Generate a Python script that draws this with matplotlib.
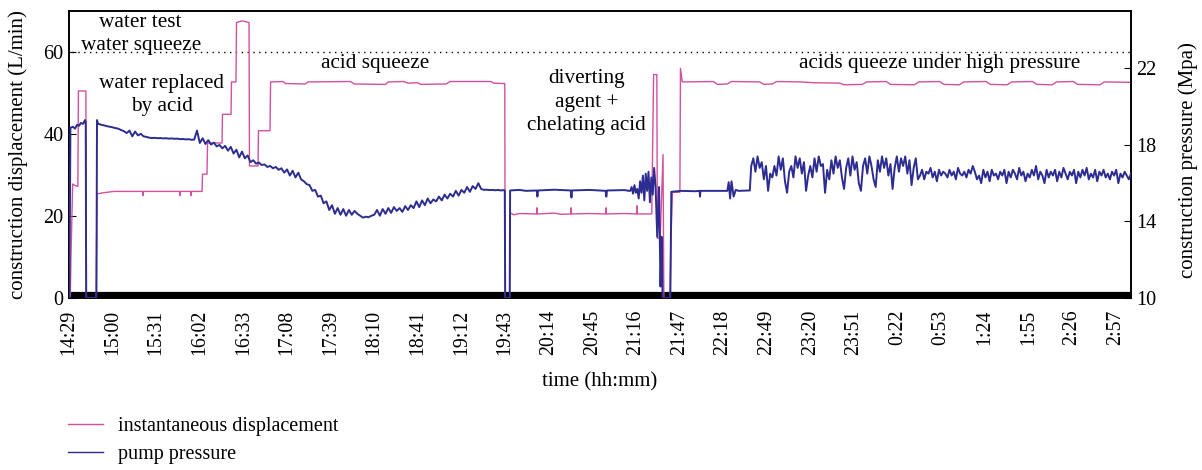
import numpy as np
import matplotlib
matplotlib.use("Agg")
import matplotlib.pyplot as plt
from matplotlib.lines import Line2D

plt.rcParams['font.family'] = ['Liberation Serif', 'DejaVu Serif']

# ---------------- data ----------------
tick_labels = ["14:29", "15:00", "15:31", "16:02", "16:33", "17:08", "17:39", "18:10",
               "18:41", "19:12", "19:43", "20:14", "20:45", "21:16", "21:47", "22:18",
               "22:49", "23:20", "23:51", "0:22", "0:53", "1:24", "1:55", "2:26", "2:57"]
tick_step_min = 31

# instantaneous displacement (L/min): time in minutes since 14:29, value
disp_t = [0.0, 0.9, 1.4, 2.6, 4.0, 6.3, 6.7, 12.0, 12.4, 19.3, 19.9, 25, 32, 52.3, 52.6, 52.9,
          78.6, 78.9, 79.2, 86.4, 86.7, 87.0, 94.6, 94.9, 98.1, 98.5, 108.8, 109.1, 115.2, 115.5,
          118.7, 119.1, 123, 128.0, 128.3, 134.4, 134.7, 142.9, 143.3, 152, 154, 168, 170, 200,
          203, 225, 227, 238, 241, 248, 250, 268, 271, 300, 302, 309.8, 310.1, 313.3, 313.8, 316,
          320, 332.4, 332.7, 333.0, 345, 350, 356.6, 356.9, 357.2, 370, 381.5, 381.8, 382.1, 395,
          403.5, 403.8, 404.1, 414.3, 415.6, 417.9, 418.3, 420.3, 422.3, 422.9, 427.3, 427.8,
          429.0, 434.3, 434.7, 436.0, 458, 461, 468, 471, 491, 494, 500, 503, 520, 530, 548, 551,
          564, 567, 581, 584, 601, 604, 619, 622, 633, 636, 652, 655, 667, 670, 685, 688, 699,
          702, 714, 717, 733, 736, 755]
disp_v = [0, 0, 10, 27.8, 27.5, 27.2, 50.5, 50.5, 0, 0, 25.4, 25.7, 26.0, 26.0, 25.0, 26.0,
          26.0, 25.0, 26.0, 26.0, 25.0, 26.0, 26.0, 30.2, 30.2, 37.8, 37.8, 44.8, 44.8, 52.7,
          52.7, 67.2, 67.6, 67.2, 32.2, 32.2, 40.8, 40.8, 52.7, 52.8, 52.3, 52.2, 52.7, 52.8,
          52.2, 52.1, 52.7, 52.8, 52.4, 52.5, 52.1, 52.2, 52.8, 52.8, 52.4, 52.3, 0, 0, 20.8, 20.3,
          20.6, 20.5, 22.0, 20.5, 20.7, 20.4, 20.5, 22.0, 20.5, 20.6, 20.5, 22.0, 20.5, 20.6,
          20.5, 22.5, 20.5, 20.5, 54.5, 54.5, 14.6, 14.6, 35.0, 0, 0, 12.5,
          25.8, 25.8, 56.0, 52.7, 52.8, 52.1, 52.2, 52.8, 52.7, 52.1, 52.2, 52.8, 52.7, 52.5, 52.4, 52.0,
          52.1, 52.7, 52.8, 52.1, 52.0, 52.7, 52.8, 52.1, 52.0, 52.7, 52.8, 52.1, 52.0, 52.7, 52.8, 52.1, 52.0,
          52.7, 52.8, 52.1, 52.0, 52.7, 52.6]

# pump pressure (MPa), start-up segment
pres_a_t = [0.3, 1.0, 2.8, 4.3, 5.7, 7.1, 8.5, 10.0, 11.4, 11.9, 12.2, 19.5, 19.9, 20.6]
pres_a_v = [10.0, 18.9, 18.95, 18.85, 19.05, 19.0, 19.15, 19.1, 19.3, 19.2, 10.0, 10.0, 19.3, 19.1]

# pump pressure, sampled every 2 min from minute 21
pres_b_start, pres_b_step = 21, 2
pres_b_v = [19.10, 19.05, 19.02, 18.98, 18.95, 18.92, 18.88, 18.85, 18.78, 18.72, 18.62, 18.75,
            18.45, 18.70, 18.50, 18.58, 18.45, 18.42, 18.38, 18.36, 18.37, 18.35, 18.36, 18.34,
            18.35, 18.33, 18.34, 18.32, 18.33, 18.30, 18.31, 18.29, 18.30, 18.27, 18.28, 18.75,
            18.10, 18.35, 18.05, 18.25, 18.02, 18.12, 17.92, 18.00, 17.82, 17.95, 17.70, 17.90,
            17.55, 17.75, 17.35, 17.65, 17.30, 17.45, 17.10, 17.20, 17.02, 17.08, 16.95, 16.98,
            16.85, 16.90, 16.78, 16.85, 16.70, 16.78, 16.55, 16.72, 16.40, 16.65, 16.30, 16.55,
            16.20, 16.10, 15.95, 15.90, 15.60, 15.65, 15.30, 15.35, 14.95, 15.05, 14.60, 14.85,
            14.40, 14.70, 14.35, 14.65, 14.30, 14.60, 14.35, 14.55, 14.40, 14.30, 14.20, 14.25,
            14.22, 14.30, 14.35, 14.60, 14.30, 14.65, 14.40, 14.70, 14.45, 14.75, 14.55, 14.70,
            14.50, 14.80, 14.60, 14.85, 14.70, 15.05, 14.75, 15.10, 14.85, 15.20, 14.95, 15.15,
            15.05, 15.30, 15.10, 15.40, 15.20, 15.45, 15.30, 15.60, 15.35, 15.65, 15.50, 15.80,
            15.55, 15.85, 15.70, 16.00, 15.70, 15.65, 15.66, 15.64, 15.65, 15.63, 15.65, 15.62,
            15.64]

# pump pressure, stop and acid/diverting stage
pres_c_t = [309.8, 310.1, 313.3, 313.6, 320, 325, 332.5, 333.0, 333.5, 345, 356.8, 357.2, 357.6,
            370, 381.5, 382.0, 382.5, 395, 398]
pres_c_v = [15.62, 10.0, 10.0, 15.62, 15.65, 15.60, 15.62, 15.30, 15.62, 15.66, 15.62, 15.25,
            15.62, 15.65, 15.60, 15.30, 15.62, 15.64, 15.60]

pres_d_start, pres_d_step = 399, 1
pres_d_v = [15.6, 15.8, 15.45, 15.9, 15.5, 15.7, 15.2, 16.1, 15.5, 16.4, 15.1, 16.5, 15.6, 16.6,
            15.0, 16.3, 15.4, 16.8, 15.8]

pres_e_t = [418.2, 419.5, 420.5, 421.3, 422.0, 427.5, 428.2, 435, 445, 448.3, 448.6, 448.9,
            468.0, 469.0, 470.0, 471.0, 472.5, 474.0, 476, 484]
pres_e_v = [13.2, 15.8, 10.6, 13.2, 10.0, 10.0, 15.55, 15.60, 15.58, 15.60, 15.30, 15.60,
            15.60, 16.05, 15.20, 16.10, 15.30, 15.65, 15.60, 15.62]

# high-pressure stage, sampled every 1.5 min
pres_f_start, pres_f_step = 485, 1.5
pres_f_v = [16.9, 17.3, 16.6, 17.4, 16.8, 17.1, 16.2, 16.9, 15.6, 16.5, 16.3, 16.9, 16.4, 17.4,
            16.7, 17.3, 16.1, 15.5, 16.6, 16.9, 16.3, 17.4, 16.8, 17.3, 16.5, 17.1, 15.6, 16.4,
            16.9, 16.3, 17.3, 16.6, 17.4, 16.9, 17.0, 15.5, 16.7, 16.2, 17.2, 16.5, 17.4, 16.8,
            17.2, 16.3, 15.7, 16.8, 17.3, 16.4, 17.4, 16.7, 17.1, 16.0, 15.6, 16.9, 17.3, 16.5,
            17.4, 16.9, 16.2, 15.8, 17.2, 16.6, 17.4, 16.8, 17.3, 16.4, 17.0, 15.7, 16.8, 17.4,
            16.6, 17.3, 16.9, 17.4, 16.5, 17.2, 15.9, 16.8, 17.3, 16.2,
            16.4, 16.7, 16.2, 16.6, 16.5, 16.8, 16.3, 16.6, 16.1, 16.7, 16.4, 16.6, 16.5, 16.3,
            16.7, 16.4, 16.6, 16.2, 16.8, 16.5, 16.4, 16.6, 16.3, 16.7, 16.5, 16.9, 16.6, 16.2,
            16.4, 16.0, 16.7, 16.3, 16.6, 16.1, 16.7, 16.4, 16.5, 16.2, 16.6, 16.4, 16.7, 16.0,
            16.6, 16.3, 16.7, 16.5, 16.2, 16.8, 16.4, 16.6, 16.1, 16.5, 16.3, 16.7, 16.4, 16.9,
            16.2, 16.6, 16.4, 16.0, 16.7, 16.3, 16.6, 16.4, 16.7, 16.1, 16.6, 16.3, 16.8, 16.5,
            16.2, 16.6, 16.4, 16.7, 16.0, 16.6, 16.3, 16.7, 16.4, 16.8, 16.2, 16.5, 16.3, 16.7,
            16.1, 16.6, 16.4, 16.7, 16.3, 16.5, 16.2, 16.6, 16.4, 16.7, 16.0, 16.5, 16.3, 16.6,
            16.4, 16.2, 16.5]

stage_labels = ["water test", "water squeeze", "water replaced\nby acid", "acid squeeze",
                "diverting\nagent +\nchelating acid", "acids queeze under high pressure"]
stage_t = [50.5, 51.0, 66.0, 217.5, 368.0, 619.0]
stage_y = [69.6, 63.9, 54.6, 59.4, 55.8, 59.4]
stage_spacing = [1.25, 1.25, 1.25, 1.25, 1.32, 1.25]

# ---------------- build pressure series ----------------
pres_b_t = pres_b_start + pres_b_step * np.arange(len(pres_b_v))
pres_d_t = pres_d_start + pres_d_step * np.arange(len(pres_d_v))
pres_f_t = pres_f_start + pres_f_step * np.arange(len(pres_f_v))
pres_t = np.concatenate([pres_a_t, pres_b_t, pres_c_t, pres_d_t, pres_e_t, pres_f_t])
pres_v = np.concatenate([pres_a_v, pres_b_v, pres_c_v, pres_d_v, pres_e_v, pres_f_v])

pink = '#d4509e'
blue = '#2d2c90'

W, H = 1202, 470
fig = plt.figure(figsize=(W / 100, H / 100), dpi=100)
ax = fig.add_axes([69 / W, 1 - 298 / H, (1131 - 69) / W, (298 - 11) / H])
ax2 = ax.twinx()

ax.axhline(0, color='black', lw=8.8, zorder=1, solid_capstyle='butt')
ax.axhline(60, xmin=0.003, xmax=1, color='black', lw=1.0, ls=(0, (1, 3.2)), zorder=1)
ax.plot(disp_t, disp_v, color=pink, lw=1.0, zorder=3)
ax2.plot(pres_t, pres_v, color=blue, lw=1.4, zorder=3)

xmax = 755
ax.set_xlim(0, xmax)
ax.set_ylim(0, 70)
ax2.set_ylim(10, 25)
ax.set_yticks([0, 20, 40, 60])
ax2.set_yticks([10, 14, 18, 22])
ticks = tick_step_min * np.arange(len(tick_labels))
ax.set_xticks(ticks)
ax.set_xticklabels(tick_labels, rotation=90)
ax.tick_params(axis='x', length=0, pad=8.5, labelsize=14.3)
ax.tick_params(axis='y', direction='in', length=5, labelsize=14.5, pad=4)
ax2.tick_params(axis='y', direction='in', length=5, labelsize=14.5, pad=4)
for a in (ax, ax2):
    for s in a.spines.values():
        s.set_linewidth(1.2)

for lab, t, y, ls in zip(stage_labels, stage_t, stage_y, stage_spacing):
    ax.text(t, y, lab, ha='center', va='top', fontsize=15.3, linespacing=ls, zorder=5)

fig.text(18 / W, 1 - 155 / H, "construction displacement (L/min)", rotation=90,
         ha='center', va='center', fontsize=15)
fig.text(1188 / W, 1 - 160 / H, "construction pressure (Mpa)", rotation=90,
         ha='center', va='center', fontsize=15)
fig.text(600 / W, 1 - 382 / H, "time (hh:mm)", ha='center', va='center', fontsize=15)

handles = [Line2D([], [], color=pink, lw=1.0), Line2D([], [], color=blue, lw=1.0)]
fig.legend(handles, ["instantaneous displacement", "pump pressure"], loc='upper left',
           bbox_to_anchor=(68 / W, 1 - 417 / H), frameon=False, fontsize=14.5,
           handlelength=1.75, handletextpad=0.75, labelspacing=0.45, borderpad=0,
           borderaxespad=0)

fig.savefig("out.png", dpi=100)
